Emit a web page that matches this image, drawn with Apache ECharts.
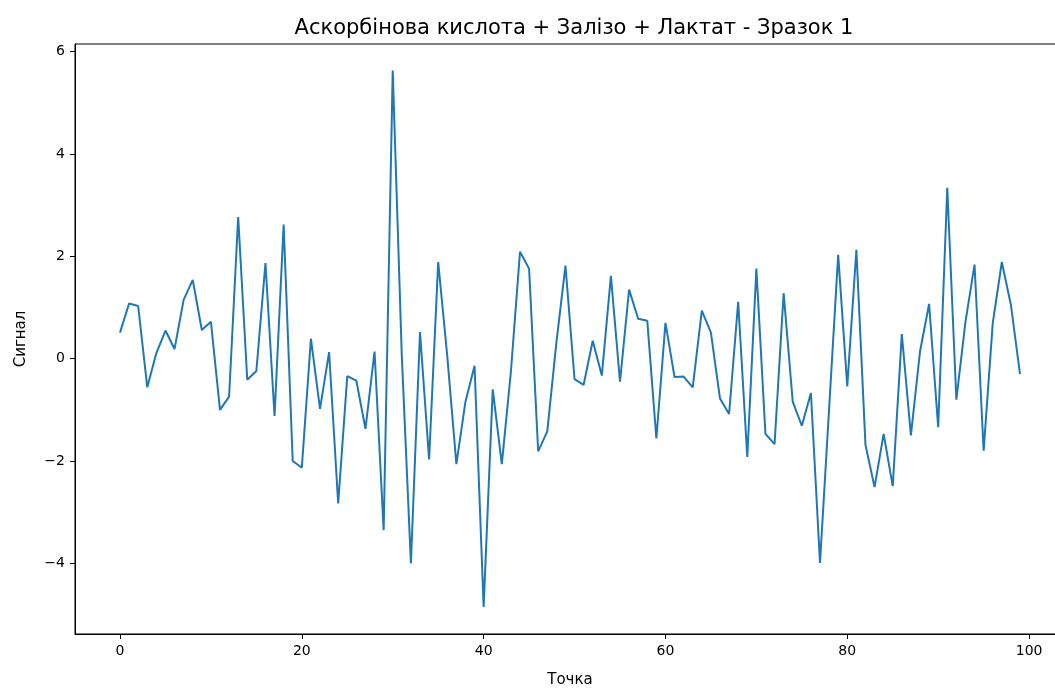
<!DOCTYPE html>
<html>
<head>
<meta charset="utf-8">
<script src="https://cdn.jsdelivr.net/npm/echarts@6/dist/echarts.min.js"></script>
<style>html,body{margin:0;padding:0;background:#fff;overflow:hidden}#c{width:1080px;height:688px}</style>
</head>
<body>
<div id="c"></div>
<script>
const titleText = 'Аскорбінова кислота + Залізо + Лактат - Зразок 1';
const xName = 'Точка';
const yName = 'Сигнал';
const points = Array.from({length: 100}, (_, i) => i);
const signal = [
  0.51, 1.08, 1.03, -0.56, 0.11, 0.55, 0.19, 1.15, 1.54, 0.56,
  0.72, -1.00, -0.74, 2.77, -0.41, -0.24, 1.87, -1.12, 2.62, -2.00,
  -2.13, 0.39, -0.98, 0.13, -2.83, -0.34, -0.43, -1.37, 0.14, -3.35,
  5.63, 0.05, -4.00, 0.52, -1.97, 1.89, 0.05, -2.06, -0.84, -0.14,
  -4.85, -0.60, -2.06, -0.25, 2.09, 1.76, -1.81, -1.42, 0.31, 1.82,
  -0.40, -0.51, 0.35, -0.33, 1.62, -0.45, 1.35, 0.78, 0.74, -1.56,
  0.70, -0.36, -0.35, -0.56, 0.94, 0.51, -0.78, -1.08, 1.11, -1.92,
  1.76, -1.47, -1.67, 1.28, -0.84, -1.31, -0.67, -3.99, -0.98, 2.03,
  -0.54, 2.13, -1.68, -2.51, -1.47, -2.49, 0.48, -1.50, 0.14, 1.07,
  -1.34, 3.34, -0.80, 0.72, 1.84, -1.80, 0.69, 1.89, 1.05, -0.30
];
const xTicks = [0, 20, 40, 60, 80, 100];
const yTicks = [-4, -2, 0, 2, 4, 6];

const fmt = v => String(v).replace('-', '\u2212');
const font = 'DejaVu Sans';
const chart = echarts.init(document.getElementById('c'), null, {renderer: 'canvas'});
chart.setOption({
  animation: false,
  backgroundColor: '#ffffff',
  title: {
    text: titleText,
    left: 569,
    textAlign: 'center',
    top: 13,
    textStyle: {fontFamily: font, fontSize: 21, fontWeight: 'normal', color: '#000'}
  },
  grid: {
    left: 75, top: 44, width: 990, height: 590,
    outerBoundsMode: 'none',
    containLabel: false,
    show: true, borderColor: '#000', borderWidth: 1, backgroundColor: 'transparent'
  },
  xAxis: {
    type: 'value',
    min: -4.95, max: 103.95,
    name: xName,
    nameLocation: 'middle',
    nameGap: 39,
    nameTextStyle: {fontFamily: font, fontSize: 15, color: '#000'},
    splitLine: {show: false},
    axisLine: {show: true, onZero: false, lineStyle: {color: '#000', width: 1}},
    axisTick: {show: true, length: 5, inside: false, customValues: xTicks, lineStyle: {color: '#000'}},
    axisLabel: {customValues: xTicks, formatter: fmt, margin: 10, fontFamily: font, fontSize: 14, color: '#000'}
  },
  yAxis: {
    type: 'value',
    min: -5.38, max: 6.15,
    name: yName,
    nameLocation: 'middle',
    nameGap: 46,
    nameRotate: 90,
    nameTextStyle: {fontFamily: font, fontSize: 15, color: '#000'},
    splitLine: {show: false},
    axisLine: {show: true, onZero: false, lineStyle: {color: '#000', width: 1}},
    axisTick: {show: true, length: 5, inside: false, customValues: yTicks, lineStyle: {color: '#000'}},
    axisLabel: {customValues: yTicks, formatter: fmt, margin: 10, fontFamily: font, fontSize: 14, color: '#000'}
  },
  series: [{
    type: 'line',
    data: points.map((p, i) => [p, signal[i]]),
    showSymbol: false,
    symbol: 'none',
    lineStyle: {color: '#1f77b4', width: 2},
    clip: true
  }]
});
</script>
</body>
</html>
